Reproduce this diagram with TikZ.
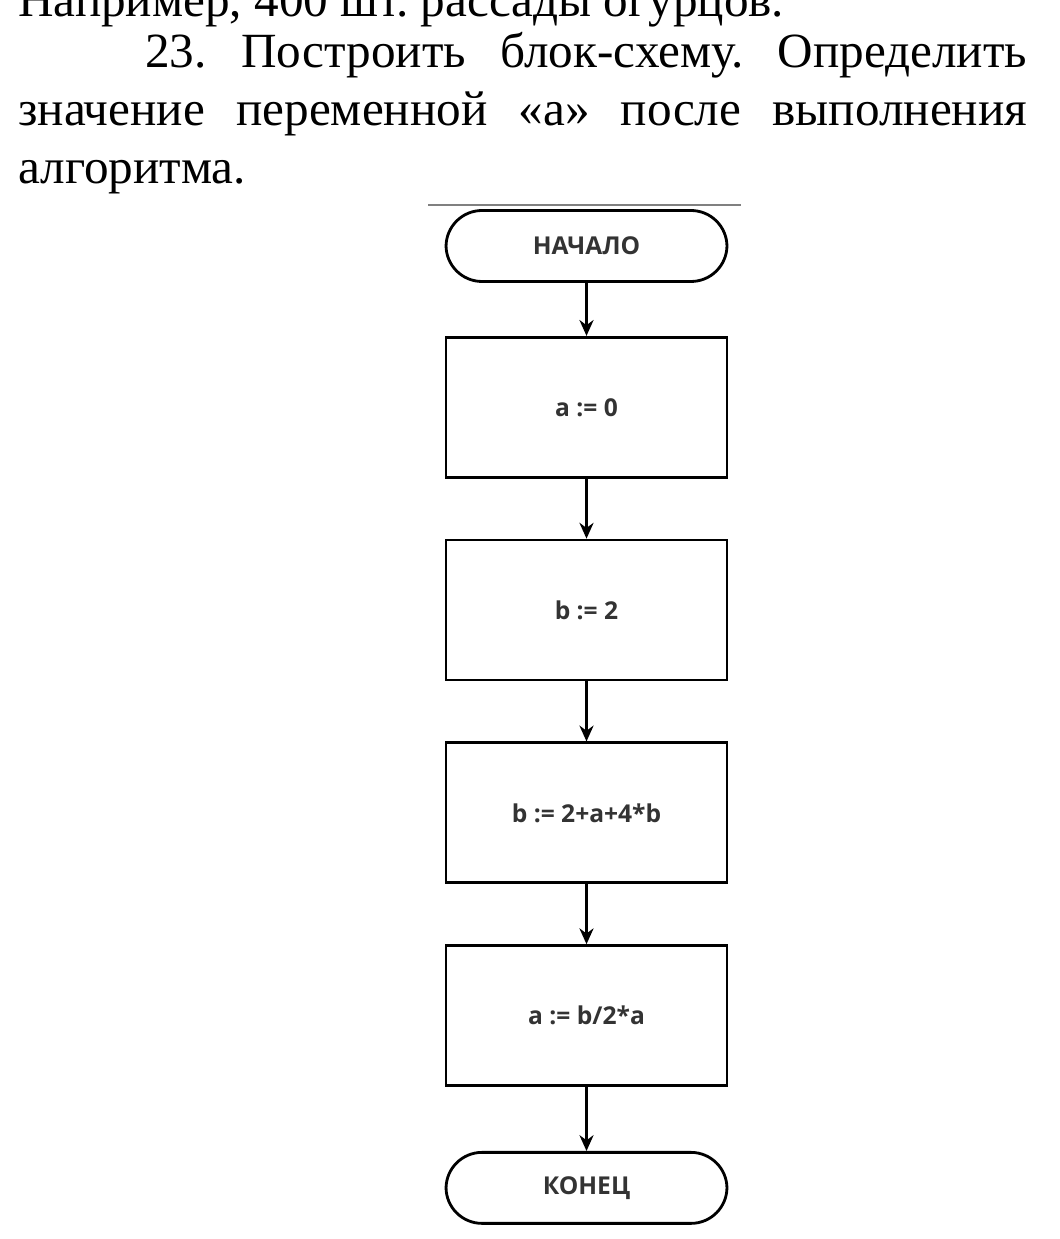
\documentclass[tikz,border=0pt]{standalone}
\usepackage{fontspec}
\setmainfont{Liberation Serif}
\newfontfamily\flowfont{Open Sans}
\usetikzlibrary{positioning,arrows.meta}
\frenchspacing
\begin{document}
\begin{tikzpicture}[x=0.02cm,y=-0.02cm,
  block/.style={draw, line width=1.6pt, minimum width=5.62cm, minimum height=2.8cm,
    font=\flowfont\bfseries\fontsize{14}{17}\selectfont, text=black!80},
  term/.style={block, rounded corners=0.72cm, minimum height=1.42cm},
  flow/.style={line width=1.6pt, -{Stealth[length=9pt,width=8pt]}},
  node distance=1.2cm]
\useasboundingbox (0,0) rectangle (1060,1239);
% text above the diagram
\node[anchor=base west, inner sep=0, font=\fontsize{28}{33}\selectfont] (prev) at (18,17) {Например, 400 шт. рассады огурцов.};
\node[anchor=north west, inner sep=0, text width=20.18cm, align=justify,
  font=\fontsize{28}{33}\selectfont] (task) at (18,32)
  {\hspace*{2.54cm}23.~Построить блок-схему. Определить значение переменной «а» после выполнения алгоритма.};
\draw[gray, line width=0.8pt] (428,205) -- (741,205);
% flowchart
\node[term] (start) at (586.5,246) {НАЧАЛО};
\node[block, below=1.06cm of start] (s1) {a := 0};
\node[block, below=of s1] (s2) {b := 2};
\node[block, below=of s2] (s3) {b := 2+a+4*b};
\node[block, below=of s3] (s4) {a := b/2*a};
\node[term, below=1.28cm of s4] (stop) {КОНЕЦ};
\foreach \a/\b in {start/s1, s1/s2, s2/s3, s3/s4, s4/stop}
  \draw[flow] (\a) -- (\b);
\end{tikzpicture}
\end{document}
